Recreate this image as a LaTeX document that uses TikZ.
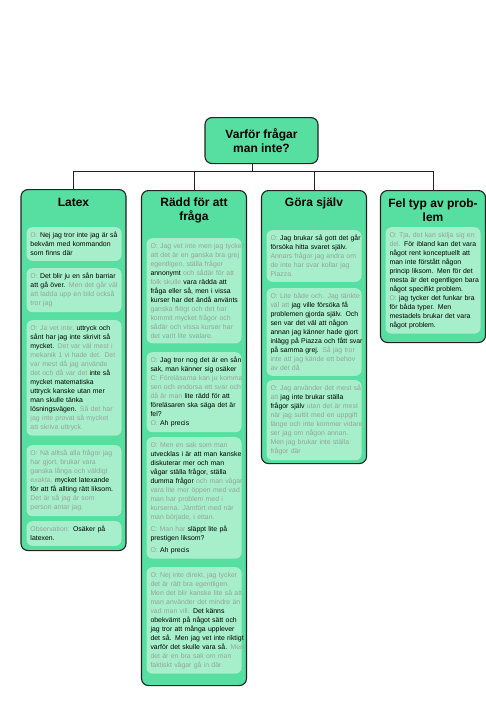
\documentclass[tikz,border=0pt]{standalone}
\usepackage{fontspec}
\setmainfont{Liberation Sans}
\definecolor{colgreen}{RGB}{86,223,160}
\definecolor{innergreen}{RGB}{167,239,203}
\definecolor{fadetext}{RGB}{150,162,156}
\definecolor{edgegrey}{RGB}{35,35,35}
\newcommand{\said}[1]{{\color{black}#1}}
\begin{document}
\begin{tikzpicture}[x=1pt, y=-1pt,
  colbox/.style={draw=edgegrey, line width=1.1pt, fill=colgreen, rounded corners=7pt, minimum width=105pt, anchor=north},
  heading/.style={font=\fontsize{12}{14}\selectfont\bfseries, align=center, text=black},
  quote/.style={fill=innergreen, rounded corners=6pt, text width=87pt, inner xsep=4pt, inner ysep=5pt, align=left, anchor=north, text=fadetext, font=\fontsize{6.9}{9}\selectfont, execute at begin node={\rightskip=0pt plus 1fil minus 8pt\linepenalty=2000\relax}},
  link/.style={draw=edgegrey, line width=0.8pt}]

\useasboundingbox (0,0) rectangle (486,707);

% Root
\node[colbox, heading, minimum width=113pt, minimum height=46pt] (root) at (261.5,117) {Varför frågar\\man inte?};

% Columns
\node[colbox, minimum height=361pt] (latex) at (73.5,189) {};
\node[heading] (latexhead) at (73.5,202) {Latex};
\node[colbox, minimum height=495pt] (radd) at (194,190) {};
\node[heading] (raddhead) at (194,210) {Rädd för att\\fråga};
\node[colbox, minimum height=273pt] (gora) at (314,190) {};
\node[heading] (gorahead) at (314,203) {Göra själv};
\node[colbox, minimum height=152pt] (feltyp) at (433,190) {};
\node[heading] (feltyphead) at (433,210) {Fel typ av prob-\\lem};

% Links
\coordinate (bar) at (252,171);
\draw[link] (bar |- root.south) -- (bar);
\draw[link] (bar) -| (latex.north);
\draw[link] (bar) -| (radd.north);
\draw[link] (bar) -| (gora.north);
\draw[link] (bar) -| (feltyp.north);

% Latex quotes
\node[quote] (latexq1) at (74,227) {O: \said{Nej jag tror inte jag är så\\bekväm med kommandon\\som finns där}};
\node[quote] (latexq2) at (74,268) {O: \said{Det blir ju en sån barriar\\att gå över.} Men det går väl\\att ladda upp en bild också\\tror jag};
\node[quote] (latexq3) at (74,320) {O: Ja vet inte, \said{uttryck och\\sånt har jag inte skrivit så\\mycket.} Det var väl mest i\\mekanik 1 vi hade det. Det\\var mest då jag använde\\det och då var det \said{inte så\\mycket matematiska\\uttryck kanske utan mer\\man skulle tänka\\lösningsvägen.} Så det har\\jag inte provat så mycket\\att skriva uttryck.};
\node[quote] (latexq4) at (74,445) {O: Nä alltså alla frågor jag\\har gjort, brukar vara\\ganska långa och väldigt\\exakta, \said{mycket latexande\\för att få allting rätt liksom.}\\Det är så jag är som\\person antar jag.};
\node[quote] (latexq5) at (74,521) {Observation: \said{Osäker på\\latexen.}};

% Radd quotes
\node[quote] (raddq1) at (194,238) {O: Jag vet inte men jag tycker\\att det är en ganska bra grej\\egentligen, ställa frågor\\\said{annonymt} och sådär för att\\folk skulle \said{vara rädda att\\fråga eller så, men i vissa\\kurser har det ändå använts}\\ganska flitigt och det har\\kommit mycket frågor och\\sådär och vissa kurser har\\det varit lite svalare.};
\node[quote] (raddq2) at (194,352) {O: \said{Jag tror nog det är en sån\\sak, man känner sig osäker}\\C: Föreläsarna kan ju komma\\sen och endorsa ett svar och\\då är man \said{lite rädd för att\\föreläsaren ska säga det är\\fel?}\\O: \said{Ah precis}};
\node[quote] (raddq3) at (194,437) {O: Men en sak som man\\\said{utvecklas i är att man kanske\\diskuterar mer och man\\vågar ställa frågor, ställa\\dumma frågor} och man vågar\\vara lite mer öppen med vad\\man har problem med i\\kurserna. Jämfört med när\\man började, i ettan.\\[3pt]C: Man har \said{släppt lite på\\prestigen liksom?}\\[3pt]O: \said{Ah precis}};
\node[quote] (raddq4) at (194,567) {O: Nej inte direkt, jag tycker\\det är rätt bra egentligen.\\Men det blir kanske lite så att\\man använder det mindre än\\vad man vill. \said{Det känns\\obekvämt på något sätt och\\jag tror att många upplever\\det så. Men jag vet inte riktigt\\varför det skulle vara så.} Men\\det är en bra sak om man\\faktiskt vågar gå in där};

% Gora quotes
\node[quote] (goraq1) at (314,230) {O: \said{Jag brukar så gott det går\\försöka hitta svaret själv.}\\Annars frågor jag andra om\\de inte har svar kollar jag\\Piazza.};
\node[quote] (goraq2) at (314,288) {O: Lite både och. Jag tänkte\\väl att \said{jag ville försöka få\\problemen gjorda själv. Och\\sen var det väl att någon\\annan jag känner hade gjort\\inlägg på Piazza och fått svar\\på samma grej.} Så jag tror\\inte att jag kände ett behov\\av det då};
\node[quote] (goraq3) at (314,380) {O: Jag använder det mest så\\att \said{jag inte brukar ställa\\frågor själv} utan det är mest\\när jag suttit med en uppgift\\länge och inte kommer vidare\\ser jag om någon annan.\\Men jag brukar inte ställa\\frågor där};

% Feltyp quotes
\node[quote] (feltypq1) at (433,227) {O: Tja, det kan skilja sig en\\del. \said{För ibland kan det vara\\något rent konceptuellt att\\man inte förstått någon\\princip liksom. Men för det\\mesta är det egentligen bara\\något specifikt problem.}\\O: \said{jag tycker det funkar bra\\för båda typer. Men\\mestadels brukar det vara\\något problem.}};

\end{tikzpicture}
\end{document}
